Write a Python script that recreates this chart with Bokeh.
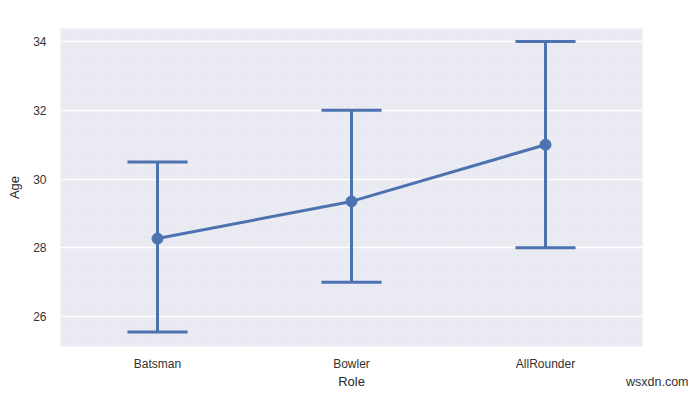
from bokeh.plotting import figure
from bokeh.layouts import column
from bokeh.models import FixedTicker, ColumnDataSource, Div
from bokeh.embed import file_html
from bokeh.resources import INLINE

roles = ["Batsman", "Bowler", "AllRounder"]
mean_age = [28.27, 29.35, 31.0]
ci_low = [25.55, 27.0, 28.0]
ci_high = [30.5, 32.0, 34.0]
y_ticks = [26, 28, 30, 32, 34]

color = "#4C72B0"
cap_half = 0.155

xs = list(range(len(roles)))
src = ColumnDataSource(dict(
    x=xs, y=mean_age, lo=ci_low, hi=ci_high,
    x0=[v - cap_half for v in xs], x1=[v + cap_half for v in xs],
))

p = figure(frame_width=582, frame_height=318, output_backend="svg", toolbar_location=None,
           x_range=(-0.5, 2.5), y_range=(25.13, 34.38),
           min_border_left=60, min_border_right=40, min_border_top=28, min_border_bottom=34)

p.background_fill_color = "#EAEAF2"
p.border_fill_color = "white"
p.outline_line_color = None

for ax in (p.xaxis, p.yaxis):
    ax.axis_line_color = None
    ax.major_tick_line_color = None
    ax.minor_tick_line_color = None
    ax.major_tick_out = 0
    ax.major_tick_in = 0
    ax.minor_tick_out = 0
    ax.minor_tick_in = 0
    ax.major_label_text_font = "Liberation Sans"
    ax.major_label_text_font_size = "12px"
    ax.major_label_text_color = "#333333"
    ax.axis_label_text_font = "Liberation Sans"
    ax.axis_label_text_font_size = "13px"
    ax.axis_label_text_font_style = "normal"
    ax.axis_label_text_color = "#262626"

p.xaxis.ticker = FixedTicker(ticks=xs, minor_ticks=[-0.5 + 0.1 * k for k in range(31)])
p.xaxis.major_label_overrides = {i: r for i, r in enumerate(roles)}
p.yaxis.ticker = FixedTicker(ticks=y_ticks, minor_ticks=[24 + 0.4 * k for k in range(31)])
p.xaxis.axis_label = "Role"
p.yaxis.axis_label = "Age"
p.xaxis.major_label_standoff = 10
p.yaxis.major_label_standoff = 14
p.xaxis.axis_label_standoff = 0
p.yaxis.axis_label_standoff = 8

p.ygrid.grid_line_color = "white"
p.ygrid.grid_line_width = 1.5
p.ygrid.minor_grid_line_color = "white"
p.ygrid.minor_grid_line_alpha = 0.35
p.ygrid.minor_grid_line_width = 0.5
p.xgrid.grid_line_color = None
p.xgrid.minor_grid_line_color = "white"
p.xgrid.minor_grid_line_alpha = 0.35
p.xgrid.minor_grid_line_width = 0.5

p.segment(x0="x", y0="lo", x1="x", y1="hi", source=src, line_color=color, line_width=3)
p.segment(x0="x0", y0="lo", x1="x1", y1="lo", source=src, line_color=color, line_width=3)
p.segment(x0="x0", y0="hi", x1="x1", y1="hi", source=src, line_color=color, line_width=3)
p.line(x="x", y="y", source=src, line_color=color, line_width=3)
p.scatter(x="x", y="y", source=src, size=11, fill_color=color, line_color=color)

mark = Div(text="wsxdn.com", width=80, height=16, margin=(-17, 0, 0, 626),
           styles={"font-family": "Liberation Sans", "font-size": "12.5px", "color": "#333333"})

layout = column(p, mark, spacing=0)
open("out.html", "w").write(file_html(layout, INLINE))
